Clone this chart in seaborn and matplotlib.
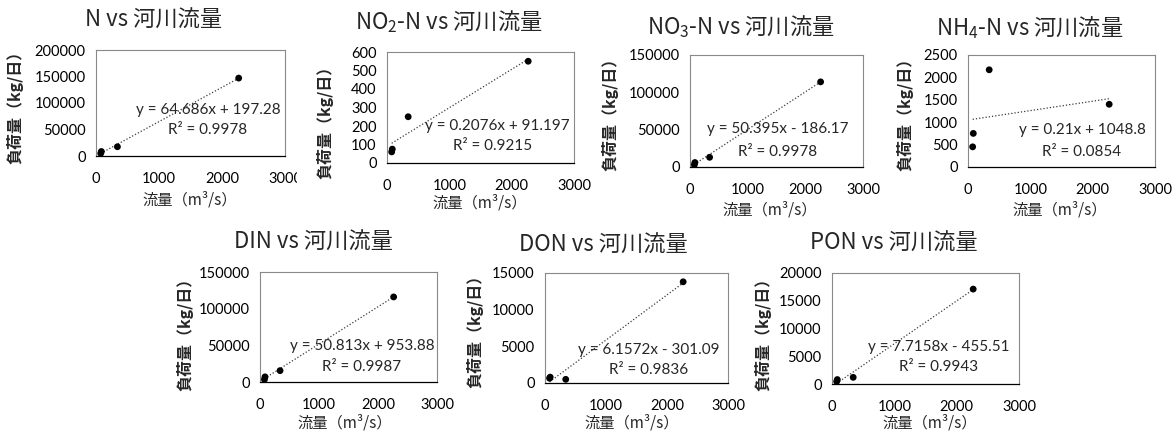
import matplotlib
matplotlib.use("Agg")
import matplotlib.pyplot as plt
import seaborn as sns
import numpy as np
import pandas as pd
from matplotlib.transforms import Bbox, TransformedBbox

# ---- data ---------------------------------------------------------------
flow = [75, 85, 340, 2265]  # 流量 (m3/s)

load_N = [5000, 8500, 17500, 147000]
load_NO2 = [60, 75, 250, 550]
load_NO3 = [3000, 6000, 13000, 114000]
load_NH4 = [450, 750, 2170, 1400]
load_DIN = [3500, 7000, 15500, 116000]
load_DON = [650, 800, 500, 13800]
load_PON = [450, 800, 1200, 17100]

species = ["N", "NO$_\\mathregular{2}$-N", "NO$_\\mathregular{3}$-N",
           "NH$_\\mathregular{4}$-N", "DIN", "DON", "PON"]
loads = [load_N, load_NO2, load_NO3, load_NH4, load_DIN, load_DON, load_PON]

# linear trend lines (slope, intercept, R^2)
slopes = [64.686, 0.2076, 50.395, 0.21, 50.813, 6.1572, 7.7158]
intercepts = [197.28, 91.197, -186.17, 1048.8, 953.88, -301.09, -455.51]
r_squared = [0.9978, 0.9215, 0.9978, 0.0854, 0.9987, 0.9836, 0.9943]

y_max = [200000, 600, 150000, 2500, 150000, 15000, 20000]
y_step = [50000, 100, 50000, 500, 50000, 5000, 5000]
x_ticks = [0, 1000, 2000, 3000]

# ---- layout (pixels) ----------------------------------------------------
W, H = 1176, 437
# axes box: left, right, top, bottom
boxes = [(96, 285, 50, 156), (387, 574, 52, 163), (690, 863, 55, 167),
         (968, 1155, 55, 167), (260, 437, 272, 382), (545, 728, 273, 383),
         (832, 1019, 273, 384)]
title_pos = [(154, 20), (449, 22), (741, 27), (1030, 28),
             (313, 242), (603, 245), (894, 243)]
ylabel_pos = [(15, 103), (325, 118), (610, 110), (905, 110),
              (185, 330), (475, 327), (763, 330)]
xlabel_pos = [(190, 200), (480, 203), (770, 210), (1060, 210),
              (345, 423), (632, 423), (930, 423)]
eq_pos = [(208, 110), (497, 126), (778, 129), (1082, 130),
          (362, 346), (649, 350), (939, 347)]
r2_pos = [(208, 130), (493, 146), (778, 152), (1082, 152),
          (362, 367), (649, 370), (939, 367)]

sns.set_style("white")
plt.rcParams["font.family"] = ["Lato", "Noto Sans CJK JP", "DejaVu Sans"]
plt.rcParams["mathtext.fontset"] = "custom"
plt.rcParams["mathtext.rm"] = "Noto Sans CJK JP"

cjk = ["Noto Sans CJK JP", "DejaVu Sans"]
grey = "#898989"

fig = plt.figure(figsize=(W / 100, H / 100), dpi=100)
fig.patch.set_facecolor("white")


def fx(px):
    return px / W


def fy(py):
    return 1 - py / H


for i in range(len(species)):
    l, r, t, b = boxes[i]
    ax = fig.add_axes([fx(l), fy(b), (r - l) / W, (b - t) / H])
    df = pd.DataFrame({"flow": flow, "load": loads[i]})

    xs = np.array([min(flow), max(flow)], dtype=float)
    trend = pd.DataFrame({"flow": xs, "load": slopes[i] * xs + intercepts[i]})
    sns.lineplot(data=trend, x="flow", y="load", ax=ax, color="#3a3a3a",
                 linestyle=(0, (1, 1.6)), linewidth=0.9, estimator=None,
                 zorder=2)
    sns.scatterplot(data=df, x="flow", y="load", ax=ax, color="black",
                    s=24, edgecolor="none", zorder=3)

    ax.set_xlim(0, 3000)
    ax.set_ylim(0, y_max[i])
    ax.set_xticks(x_ticks)
    ax.set_yticks(np.arange(0, y_max[i] + 1, y_step[i]))
    ax.set_xlabel("")
    ax.set_ylabel("")
    ax.tick_params(axis="both", direction="out", length=3.5, width=0.8,
                   color=grey, labelsize=10.5, labelcolor="black")
    ax.tick_params(axis="x", pad=8)
    ax.tick_params(axis="y", pad=4)
    for side in ("left", "top", "right"):
        ax.spines[side].set_color(grey)
        ax.spines[side].set_linewidth(0.8)
    ax.spines["bottom"].set_color("black")
    ax.spines["bottom"].set_linewidth(0.9)

    sign = "+" if intercepts[i] >= 0 else "-"
    eq = f"y = {slopes[i]}x {sign} {abs(intercepts[i])}"
    fig.text(fx(eq_pos[i][0]), fy(eq_pos[i][1]), eq, ha="center",
             va="center", fontsize=11)
    fig.text(fx(r2_pos[i][0]), fy(r2_pos[i][1]), f"R² = {r_squared[i]}",
             ha="center", va="center", fontsize=11)

    fig.text(fx(title_pos[i][0]), fy(title_pos[i][1]),
             f"{species[i]} vs 河川流量", ha="center", va="center",
             fontsize=16, family="Noto Sans CJK JP")
    fig.text(fx(ylabel_pos[i][0]), fy(ylabel_pos[i][1]), "負荷量（kg/日）",
             ha="center", va="center", rotation=90, fontsize=11.5,
             fontweight="bold", family=cjk)
    fig.text(fx(xlabel_pos[i][0]), fy(xlabel_pos[i][1]), "流量（m³/s）",
             ha="center", va="center", fontsize=11, family=cjk)

    if i == 0:
        # first chart area ends just past its last x tick label
        lab = ax.xaxis.get_major_ticks()[-1].label1
        lab.set_clip_box(TransformedBbox(Bbox.from_extents(0, 0, fx(297), 1),
                                         fig.transFigure))
        lab.set_clip_on(True)

fig.savefig("out.png", dpi=100, facecolor="white")
